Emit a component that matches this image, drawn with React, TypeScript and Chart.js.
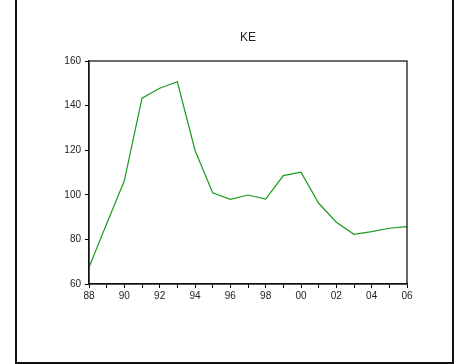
import React, { useEffect, useRef } from "react";
import { Chart, registerables } from "chart.js";

Chart.register(...registerables);

const years = [1988, 1989, 1990, 1991, 1992, 1993, 1994, 1995, 1996, 1997, 1998, 1999, 2000, 2001, 2002, 2003, 2004, 2005, 2006];
const keValues = [67.5, 87, 106.3, 143.3, 147.8, 150.7, 120, 100.9, 98, 99.9, 98.1, 108.6, 110.1, 96.2, 87.7, 82.3, 83.5, 85, 85.7];
const yTicks = [60, 80, 100, 120, 140, 160];
const titleText = "KE";

const framePlugin = {
  id: "frame",
  afterDraw(chart: any) {
    const { ctx, chartArea } = chart;
    ctx.save();
    // plot box
    ctx.strokeStyle = "#1a1a1a";
    ctx.lineWidth = 1.3;
    ctx.strokeRect(chartArea.left, chartArea.top, chartArea.right - chartArea.left, chartArea.bottom - chartArea.top);
    // title
    ctx.fillStyle = "#222";
    ctx.font = "12px 'Liberation Sans', Arial, sans-serif";
    ctx.textAlign = "center";
    ctx.textBaseline = "middle";
    ctx.fillText(titleText, (chartArea.left + chartArea.right) / 2, 38);
    // outer frame
    ctx.fillStyle = "#111";
    ctx.fillRect(15, 0, 2, 364);
    ctx.fillRect(452, 0, 2, 364);
    ctx.fillRect(15, 362, 439, 2);
    ctx.restore();
  },
};

export default function App() {
  const ref = useRef<HTMLCanvasElement>(null);
  useEffect(() => {
    const chart = new Chart(ref.current!, {
      type: "line",
      data: {
        datasets: [
          {
            label: "KE",
            data: years.map((y, i) => ({ x: y, y: keValues[i] })),
            borderColor: "#1a9a1a",
            borderWidth: 1.2,
            pointRadius: 0,
            tension: 0,
            fill: false,
          },
        ],
      },
      options: {
        animation: false,
        responsive: false,
        maintainAspectRatio: false,
        layout: { padding: { left: 0, top: 61, right: 58, bottom: 0 } },
        plugins: { legend: { display: false }, title: { display: false }, tooltip: { enabled: false } },
        scales: {
          x: {
            type: "linear",
            min: 1988,
            max: 2006,
            afterBuildTicks: (scale: any) => {
              scale.ticks = years.map((v) => ({ value: v }));
            },
            afterFit: (scale: any) => {
              scale.height = 80;
            },
            ticks: {
              autoSkip: false,
              maxRotation: 0,
              padding: 2,
              color: "#222",
              font: { family: "'Liberation Sans', Arial, sans-serif", size: 10 },
              callback: (v: any) => {
                const n = Number(v);
                return n % 2 === 0 ? String(n % 100).padStart(2, "0") : "";
              },
            },
            grid: { drawOnChartArea: false, drawTicks: true, tickLength: 4, color: "#000", lineWidth: 1 },
            border: { display: true, color: "#000", width: 1.3 },
          },
          y: {
            type: "linear",
            min: 60,
            max: 160,
            afterBuildTicks: (scale: any) => {
              scale.ticks = yTicks.map((v) => ({ value: v }));
            },
            afterFit: (scale: any) => {
              scale.width = 89;
            },
            ticks: {
              padding: 4,
              color: "#222",
              font: { family: "'Liberation Sans', Arial, sans-serif", size: 10 },
            },
            grid: { drawOnChartArea: false, drawTicks: true, tickLength: 4, color: "#000", lineWidth: 1 },
            border: { display: true, color: "#000", width: 1.3 },
          },
        },
      },
      plugins: [framePlugin],
    });
    return () => chart.destroy();
  }, []);
  return (
    <div style={{ position: "absolute", left: 0, top: 0, width: 465, height: 364, background: "#fff" }}>
      <canvas ref={ref} width={465} height={364} style={{ width: 465, height: 364, display: "block" }} />
    </div>
  );
}
